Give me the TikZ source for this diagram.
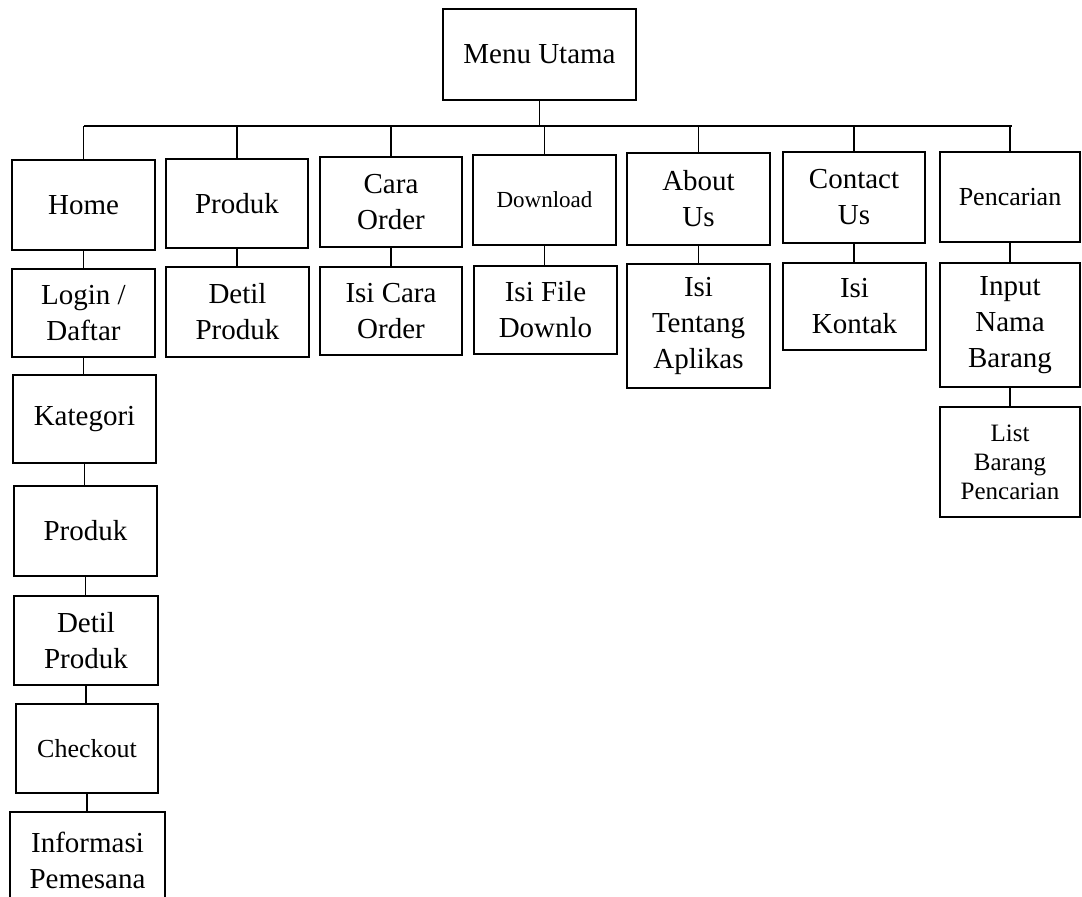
\documentclass[tikz,border=0pt]{standalone}
\usepackage{fontspec}
\setmainfont{Liberation Serif}
\begin{document}
\begin{tikzpicture}[x=1pt,y=-1pt,
  bx/.style={draw, line width=1.9pt, align=center, inner sep=0pt,
    font=\fontsize{29}{36}\selectfont},
  sm/.style={font=\fontsize{23}{29}\selectfont},
  md/.style={font=\fontsize{26}{30}\selectfont},
  ln/.style={line width=1.6pt},
  bus/.style={line width=2.8pt}]
\useasboundingbox (0,0) rectangle (1082,897);
% top
\node[bx, minimum width=193pt, minimum height=91pt] (menu) at (539.5,54.5) {Menu Utama};
% row 1
\node[bx, minimum width=143pt, minimum height=90pt] (home) at (83.5,205) {Home};
\node[bx, minimum width=142pt, minimum height=89pt] (produk) at (237,203.5) {Produk};
\node[bx, minimum width=142pt, minimum height=90pt] (cara) at (391,202) {Cara\\Order};
\node[bx, sm, minimum width=143pt, minimum height=90pt] (download) at (544.5,200) {Download};
\node[bx, minimum width=143pt, minimum height=92pt] (about) at (698.5,199) {About\\Us};
\node[bx, minimum width=142pt, minimum height=91pt] (contact) at (854,197.5) {Contact\\Us};
\node[bx, md, minimum width=140pt, minimum height=90pt] (pencarian) at (1010,197) {Pencarian};
% row 2
\node[bx, minimum width=143pt, minimum height=88pt] (login) at (83.5,313) {Login /\\Daftar};
\node[bx, minimum width=143pt, minimum height=90pt] (detil) at (237.5,312) {Detil\\Produk};
\node[bx, minimum width=142pt, minimum height=88pt] (isicara) at (391,311) {Isi Cara\\Order};
\node[bx, minimum width=143pt, minimum height=88pt] (isifile) at (545.5,310) {Isi File\\Downlo};
\node[bx, minimum width=143pt, minimum height=124pt] (isitentang) at (698.5,326) {Isi\\Tentang\\Aplikas};
\node[bx, minimum width=143pt, minimum height=87pt] (isikontak) at (854.5,306.5) {Isi\\Kontak};
\node[bx, minimum width=140pt, minimum height=124pt] (input) at (1010,325) {Input\\Nama\\Barang};
\node[bx, font=\fontsize{25}{29}\selectfont, minimum width=140pt, minimum height=110pt] (list) at (1010,462) {List\\Barang\\Pencarian};
% left column
\node[bx, minimum width=143pt, minimum height=88pt] (kategori) at (84.5,419) {Kategori};
\node[bx, minimum width=143pt, minimum height=90pt] (produk2) at (85.5,531) {Produk};
\node[bx, minimum width=144pt, minimum height=89pt] (detil2) at (86,640.5) {Detil\\Produk};
\node[bx, md, minimum width=142pt, minimum height=89pt] (checkout) at (87,748.5) {Checkout};
\node[bx, minimum width=155pt, minimum height=96pt] (info) at (87.5,860) {Informasi\\Pemesana};
% bus
\coordinate (busL) at (84,126);
\coordinate (busR) at (1012,126);
\draw[bus] (busL) -- (busR);
\draw[ln] (menu.south) -- (menu.south |- busL);
\foreach \n in {home,produk,cara,download,about,contact,pencarian}
  \draw[ln] (\n.north) -- (\n.north |- busL);
% vertical connectors
\foreach \a/\b in {home/login,produk/detil,cara/isicara,download/isifile,about/isitentang,contact/isikontak,pencarian/input,input/list,login/kategori,kategori/produk2,produk2/detil2,detil2/checkout,checkout/info}
  \draw[ln] (\a.south) -- (\a.south |- \b.north);
\end{tikzpicture}
\end{document}
